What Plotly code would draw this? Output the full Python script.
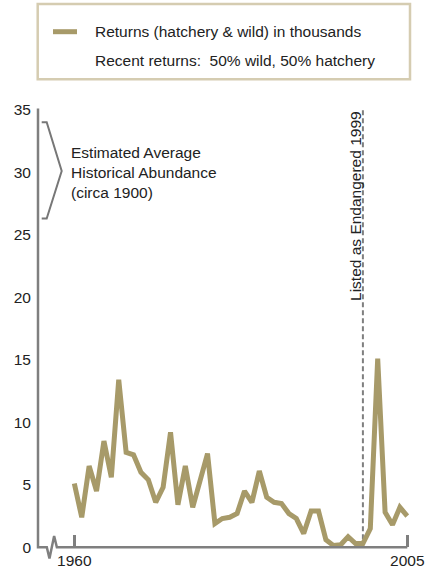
import plotly.graph_objects as go

# ---------------- data ----------------
years = list(range(1960, 2006))
returns_k = [5.1, 2.4, 6.5, 4.5, 8.5, 5.6, 13.4, 7.6, 7.4, 6.0,
             5.4, 3.6, 4.8, 9.2, 3.4, 6.5, 3.2, 5.3, 7.5, 1.9,
             2.3, 2.4, 2.7, 4.5, 3.6, 6.1, 4.0, 3.6, 3.5, 2.7,
             2.3, 1.1, 2.9, 2.9, 0.6, 0.15, 0.2, 0.85, 0.3, 0.3,
             1.5, 15.1, 2.8, 1.8, 3.2, 2.5]
y_tick_vals = [0, 5, 10, 15, 20, 25, 30, 35]
x_tick_vals = [1960, 2005]
x_tick_text = ["1960", "2005"]
listing_year = 1999
historical_low, historical_mid, historical_high = 26.3, 30.1, 34.0

series_name = "Returns (hatchery & wild) in thousands"
note_text = "Recent returns:\u00a0 50% wild, 50% hatchery"
hist_text = "Estimated Average<br>Historical Abundance<br>(circa 1900)"
listing_text = "Listed as Endangered 1999"

# ---------------- style / layout ----------------
W, H = 429, 575
ML, MR, MT, MB = 38, 20, 100, 9
PW, PH = W - ML - MR, H - MT - MB
X0, X1 = 1955.09, 2005.23
Y0, Y1 = -1.496, 35.784
LINE_C = "#a79a69"
AXIS_C = "#7f7f7f"
TXT_C = "#222222"
FONT = "Liberation Sans, Arial, sans-serif"
FS = 15.5


def xd(v):  # data x -> paper
    return (v - X0) / (X1 - X0)


def yd(v):  # data y -> paper
    return (v - Y0) / (Y1 - Y0)


def xp(px):  # pixel x -> paper
    return (px - ML) / PW


def yp(py):  # pixel y -> paper
    return (H - MB - py) / PH


fig = go.Figure()
fig.add_trace(go.Scatter(
    x=years, y=returns_k, mode="lines", name=series_name,
    line=dict(color=LINE_C, width=5), showlegend=False, hoverinfo="x+y"))

# axes drawn with a break symbol
axis_path = (f"M 0,{yd(35.1)} L 0,{yd(0)} L {xd(1956.28)},{yd(0)} "
             f"L {xd(1956.64)},{yd(-0.9)} L {xd(1957.27)},{yd(0.9)} "
             f"L {xd(1957.64)},{yd(0)} L {xd(x_tick_vals[-1])},{yd(0)}")
shapes = [
    dict(type="path", xref="paper", yref="paper", path=axis_path,
         line=dict(color=AXIS_C, width=2.5)),
    # bracket for historical abundance
    dict(type="path", xref="paper", yref="paper",
         path=(f"M {xp(41.7)},{yd(historical_high)} L {xp(46.7)},{yd(historical_high)} "
               f"L {xp(61.7)},{yd(historical_mid)} L {xp(46.7)},{yd(historical_low)} "
               f"L {xp(41.7)},{yd(historical_low)}"),
         line=dict(color="#777777", width=2)),
    # listing line
    dict(type="line", xref="x", yref="y", x0=listing_year, x1=listing_year,
         y0=0, y1=35.0, line=dict(color=AXIS_C, width=2, dash="5px,3px"),
         layer="below"),
    # legend box
    dict(type="rect", xref="paper", yref="paper",
         x0=xp(37.7), x1=xp(410), y0=yp(79.3), y1=yp(4),
         line=dict(color="#d5ccb1", width=2.5)),
    dict(type="line", xref="paper", yref="paper",
         x0=xp(53), x1=xp(77), y0=yp(31.7), y1=yp(31.7),
         line=dict(color=LINE_C, width=5)),
]

annotations = [
    dict(xref="paper", yref="paper", x=xp(92.5), y=yp(31.7), xanchor="left",
         yanchor="middle", text=series_name, showarrow=False,
         font=dict(family=FONT, size=FS, color=TXT_C)),
    dict(xref="paper", yref="paper", x=xp(92.5), y=yp(60.5), xanchor="left",
         yanchor="middle", text=note_text, showarrow=False,
         font=dict(family=FONT, size=FS, color=TXT_C)),
    dict(xref="paper", yref="y", x=xp(68.5), y=30.0, xanchor="left",
         yanchor="middle", text=hist_text, align="left", showarrow=False,
         font=dict(family=FONT, size=FS, color=TXT_C)),
    dict(xref="x", yref="y", x=listing_year, xshift=-8, y=27.3,
         xanchor="center", yanchor="middle", text=listing_text, textangle=-90,
         showarrow=False, font=dict(family=FONT, size=FS, color=TXT_C)),
]

fig.update_layout(
    width=W, height=H, autosize=False,
    margin=dict(l=ML, r=MR, t=MT, b=MB, pad=0),
    paper_bgcolor="white", plot_bgcolor="white",
    font=dict(family=FONT, size=FS, color=TXT_C),
    shapes=shapes, annotations=annotations, showlegend=False,
    xaxis=dict(range=[X0, X1], showgrid=False, zeroline=False, showline=False,
               tickvals=x_tick_vals, ticktext=x_tick_text, automargin=False,
               ticks="inside", ticklen=12, tickwidth=2.5, tickcolor=AXIS_C,
               anchor="free", position=yd(0), ticklabelstandoff=2,
               tickfont=dict(family=FONT, size=FS, color=TXT_C), fixedrange=True),
    yaxis=dict(range=[Y0, Y1], showgrid=False, zeroline=False, showline=False,
               tickvals=y_tick_vals, ticks="", ticklabelstandoff=6, automargin=False,
               tickfont=dict(family=FONT, size=FS, color=TXT_C), fixedrange=True),
)

fig.write_html(
    "out.html",
    config={"displayModeBar": False},
    post_script="document.body.style.margin='0';document.body.style.overflow='hidden';",
)
